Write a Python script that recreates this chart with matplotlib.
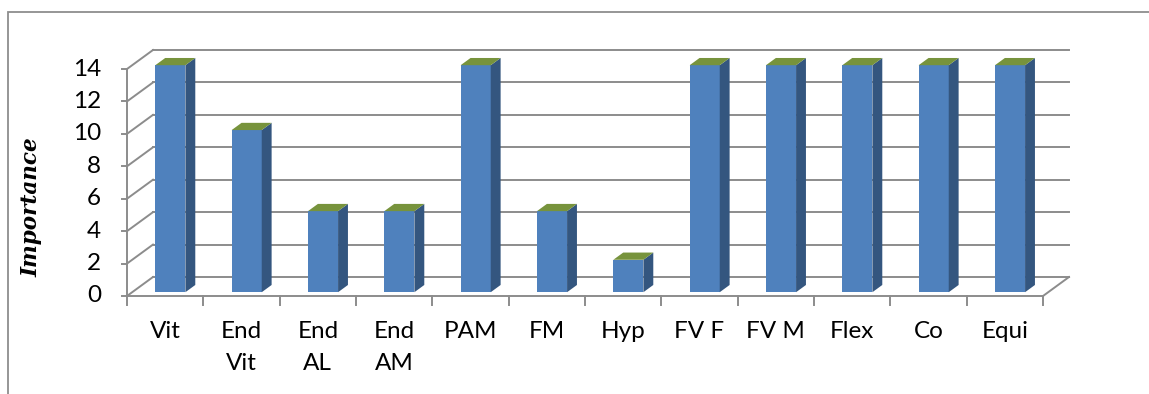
import matplotlib
matplotlib.use("Agg")
import matplotlib.pyplot as plt
from matplotlib.patches import Polygon, Rectangle
from matplotlib.lines import Line2D

# ---- data ----
categories = ["Vit", "End\nVit", "End\nAL", "End\nAM", "PAM", "FM", "Hyp",
              "FV F", "FV M", "Flex", "Co", "Equi"]
importance = [14, 10, 5, 5, 14, 5, 2, 14, 14, 14, 14, 14]
y_ticks = [0, 2, 4, 6, 8, 10, 12, 14]
y_label = "Importance"

# ---- styling ----
FRONT = "#4F81BD"
SIDE = "#34567F"
TOP = "#77933C"
GRID = "#8C8C8C"
W, H = 1149, 394
DPI = 100
FONT = "Lato"
FS = 17.5

# layout of the front plane (pixels) and oblique depth
X_LEFT, X_RIGHT = 127, 1043
Y_ZERO, Y_TOP = 296, 69
n = len(categories)
ux = (X_RIGHT - X_LEFT) / n           # pixels per category
uy = (Y_ZERO - Y_TOP) / max(y_ticks)  # pixels per value unit
DX = 26 / ux                          # depth offset in category units
DY = 19 / uy                          # depth offset in value units

fig = plt.figure(figsize=(W / DPI, H / DPI), dpi=DPI)
ax = fig.add_axes([0, 0, 1, 1])
ax.set_xlim(-X_LEFT / ux, (W - X_LEFT) / ux)
ax.set_ylim(-(H - Y_ZERO) / uy, Y_ZERO / uy)
ax.axis("off")

lw = 1.4


def depth(x, y, d):
    return x + d * DX, y + d * DY


# back wall gridlines and left side wall
ymax = max(y_ticks)
for v in y_ticks:
    bx0, by0 = depth(0, v, 1)
    bx1, by1 = depth(n, v, 1)
    ax.add_line(Line2D([bx0, bx1], [by0, by1], color=GRID, lw=lw, zorder=1))
    ax.add_line(Line2D([0, bx0], [v, by0], color=GRID, lw=lw, zorder=1))
    # tick marks on the value axis
    ax.add_line(Line2D([-5 / ux, 0], [v, v], color=GRID, lw=lw, zorder=1))
    ax.text(-26 / ux, v, str(v), ha="right", va="center",
            fontsize=FS, family=FONT, color="black")

# value axis, floor edges
ax.add_line(Line2D([0, 0], [0, ymax], color=GRID, lw=lw, zorder=1))
ax.add_line(Line2D([0, n], [0, 0], color=GRID, lw=lw, zorder=1))
fx, fy = depth(n, 0, 1)
ax.add_line(Line2D([n, fx], [0, fy], color=GRID, lw=lw, zorder=1))

# category tick marks
for i in range(n + 1):
    ax.add_line(Line2D([i, i], [0, -9 / uy], color=GRID, lw=lw, zorder=1))

# bars
half = 0.197
d0, d1 = 0.2, 0.58
for i, (cat, val) in enumerate(zip(categories, importance)):
    c = i + 0.5
    xl, yb = depth(c - half, 0, d0)
    xr, _ = depth(c + half, 0, d0)
    yt = yb + val
    sx, sy = (d1 - d0) * DX, (d1 - d0) * DY
    front = Polygon([(xl, yb), (xr, yb), (xr, yt), (xl, yt)],
                    closed=True, fc=FRONT, ec="none", zorder=3)
    side = Polygon([(xr, yb), (xr + sx, yb + sy), (xr + sx, yt + sy), (xr, yt)],
                   closed=True, fc=SIDE, ec="none", zorder=3)
    top = Polygon([(xl, yt), (xr, yt), (xr + sx, yt + sy), (xl + sx, yt + sy)],
                  closed=True, fc=TOP, ec="none", zorder=3)
    for p in (front, side, top):
        ax.add_patch(p)
    for k, line in enumerate(cat.split("\n")):
        ax.text(c, -(331 - Y_ZERO + 33 * k) / uy, line, ha="center", va="center",
                fontsize=FS, family=FONT, color="black")

# axis title
ax.text(-(X_LEFT - 32) / ux, (Y_ZERO - 207) / uy, y_label, rotation=90,
        ha="center", va="center", fontsize=15.5, family="DejaVu Serif",
        style="italic", fontweight="bold", color="black")

# chart border
fig.add_artist(Rectangle((8 / W, -0.1), 1.2, (H - 12) / H + 0.1,
                         transform=fig.transFigure, fill=False,
                         ec="#8E8E8E", lw=1.3))

fig.savefig("out.png", dpi=DPI)
